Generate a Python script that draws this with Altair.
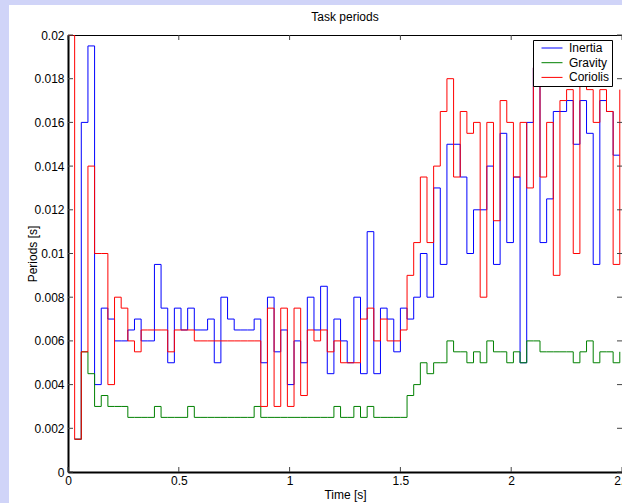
import altair as alt
import pandas as pd
import jinja2

# ---------------- data ----------------
period = 0.03  # sampling step of the stairs (s)
series_names = ["Inertia", "Gravity", "Coriolis"]
series_colors = ["#0000ff", "#008000", "#ff0000"]

inertia = [None, 0.0015, 0.016, 0.0195, 0.004, 0.0075, 0.007, 0.006, 0.006, 0.0065,
           0.007, 0.006, 0.006, 0.0095, 0.0075, 0.005, 0.0075, 0.0065, 0.0075, 0.0065,
           0.0065, 0.007, 0.005, 0.008, 0.007, 0.0065, 0.0065, 0.0065, 0.007, 0.005,
           0.008, 0.0055, 0.0065, 0.004, 0.006, 0.005, 0.008, 0.0065, 0.0085, 0.0045,
           0.007, 0.006, 0.005, 0.008, 0.0045, 0.011, 0.0045, 0.0075, 0.007, 0.0055,
           0.0075, 0.007, 0.008, 0.01, 0.008, 0.013, 0.0095, 0.015, 0.015, 0.0135,
           0.01, 0.012, 0.012, 0.014, 0.0095, 0.0155, 0.0105, 0.0135, 0.005, 0.016,
           0.0185, 0.0105, 0.0125, 0.0165, 0.0165, 0.017, 0.015, 0.017, 0.0155, 0.0095,
           0.017, 0.0165, 0.0145, 0.0145]

gravity = [None, 0.0015, 0.0055, 0.0045, 0.003, 0.0035, 0.003, 0.003, 0.003, 0.0025,
           0.0025, 0.0025, 0.0025, 0.003, 0.0025, 0.0025, 0.0025, 0.0025, 0.003, 0.0025,
           0.0025, 0.0025, 0.0025, 0.0025, 0.0025, 0.0025, 0.0025, 0.0025, 0.003, 0.0025,
           0.0025, 0.0025, 0.0025, 0.0025, 0.0025, 0.0025, 0.0025, 0.0025, 0.0025, 0.0025,
           0.003, 0.0025, 0.0025, 0.003, 0.0025, 0.003, 0.0025, 0.0025, 0.0025, 0.0025,
           0.0025, 0.0035, 0.004, 0.005, 0.0045, 0.005, 0.005, 0.006, 0.0055, 0.0055,
           0.005, 0.0055, 0.005, 0.006, 0.0055, 0.0055, 0.005, 0.0055, 0.005, 0.006,
           0.006, 0.0055, 0.0055, 0.0055, 0.0055, 0.0055, 0.005, 0.0055, 0.006, 0.005,
           0.0055, 0.0055, 0.005, 0.0055]

coriolis = [0.02, 0.0015, 0.0055, 0.014, 0.01, 0.01, 0.004, 0.008, 0.0075, 0.006,
            0.0055, 0.0065, 0.0065, 0.0065, 0.0065, 0.0055, 0.0065, 0.0065, 0.0065, 0.006,
            0.006, 0.006, 0.006, 0.006, 0.006, 0.006, 0.006, 0.006, 0.006, 0.003,
            0.0075, 0.003, 0.0075, 0.003, 0.0075, 0.0035, 0.0065, 0.006, 0.0065, 0.0055,
            0.006, 0.005, 0.005, 0.005, 0.007, 0.0075, 0.006, 0.007, 0.006, 0.006,
            0.0065, 0.009, 0.0105, 0.0135, 0.0105, 0.014, 0.0165, 0.018, 0.0135, 0.0165,
            0.0155, 0.016, 0.008, 0.016, 0.0115, 0.017, 0.016, 0.0135, 0.016, 0.013,
            0.0185, 0.0135, 0.016, 0.009, 0.017, 0.0175, 0.01, 0.0185, 0.0175, 0.016,
            0.0175, 0.0165, 0.0095, 0.0175]

x_ticks = [0, 0.5, 1, 1.5, 2, 2.5]
y_ticks = [0, 0.002, 0.004, 0.006, 0.008, 0.01, 0.012, 0.014, 0.016, 0.018, 0.02]

rows = []
for name, vals in zip(series_names, [inertia, gravity, coriolis]):
    for k, v in enumerate(vals):
        if v is not None:
            rows.append({"t": round(k * period, 4), "p": v, "task": name})
df = pd.DataFrame(rows)

# ---------------- chart ----------------
FONT = "Liberation Sans"
W, H = 554, 437
TICK = 5
tick_color = "#444444"

x_scale = alt.Scale(domain=[0, 2.5], nice=False, zero=False)
y_scale = alt.Scale(domain=[0, 0.02], nice=False, zero=False)

x_axis = alt.Axis(title="Time [s]", values=x_ticks, format="~g", ticks=False,
                  grid=False, labelPadding=3, labelFlush=False,
                  domainColor="black", domainWidth=2,
                  titleY=22, titleBaseline="middle")
y_axis = alt.Axis(title="Periods [s]", values=y_ticks, format="~g", ticks=False,
                  grid=False, labelPadding=4, labelFlush=False,
                  domainColor="black", domainWidth=2,
                  titleX=-36, titleY=H / 2, titleAngle=270,
                  titleBaseline="middle", titleAlign="center")

lines = alt.Chart(df).mark_line(
    interpolate="step-after", strokeWidth=1, clip=True
).encode(
    x=alt.X("t:Q", scale=x_scale, axis=x_axis),
    y=alt.Y("p:Q", scale=y_scale, axis=y_axis),
    color=alt.Color("task:N",
                    scale=alt.Scale(domain=series_names, range=series_colors),
                    legend=alt.Legend(title=None, orient="none", legendX=465, legendY=5,
                                      symbolType="stroke", symbolSize=441,
                                      symbolStrokeWidth=1, symbolOffset=6,
                                      clipHeight=12, labelFontSize=12,
                                      labelFont=FONT, labelColor="black",
                                      strokeColor="black", fillColor="white",
                                      padding=2, rowPadding=2.7, labelOffset=6,
                                      cornerRadius=0)),
)

xt = pd.DataFrame({"t": x_ticks})
yt = pd.DataFrame({"p": y_ticks})

bottom_ticks = alt.Chart(xt).mark_rule(color=tick_color, strokeWidth=1).encode(
    x=alt.X("t:Q", scale=x_scale, axis=x_axis), y=alt.value(H), y2=alt.value(H - TICK))
top_ticks = alt.Chart(xt).mark_rule(color=tick_color, strokeWidth=1).encode(
    x=alt.X("t:Q", scale=x_scale, axis=x_axis), y=alt.value(0), y2=alt.value(TICK))
left_ticks = alt.Chart(yt).mark_rule(color=tick_color, strokeWidth=1).encode(
    y=alt.Y("p:Q", scale=y_scale, axis=y_axis), x=alt.value(0), x2=alt.value(TICK))
right_ticks = alt.Chart(yt).mark_rule(color=tick_color, strokeWidth=1).encode(
    y=alt.Y("p:Q", scale=y_scale, axis=y_axis), x=alt.value(W), x2=alt.value(W - TICK))

chart = alt.layer(
    lines, bottom_ticks, top_ticks, left_ticks, right_ticks
).properties(
    width=W, height=H,
    title=alt.Title("Task periods", fontSize=12, fontWeight="normal", font=FONT,
                    offset=5, anchor="middle", color="black"),
    autosize=alt.AutoSizeParams(type="none"),
    padding={"left": 59, "top": 30, "right": 0, "bottom": 31},
    background="white",
).configure_view(
    stroke="black", strokeWidth=1
).configure_axis(
    labelFont=FONT, labelFontSize=12, labelColor="black",
    titleFont=FONT, titleFontSize=12, titleFontWeight="normal", titleColor="black",
)

PAGE = jinja2.Template("""<!DOCTYPE html>
<html>
<head>
  <style>
    html, body { margin: 0; padding: 0; background: #d0d4f8; overflow: hidden; }
    body { padding: 5px 0 0 9px; }
    #{{ output_div }}.vega-embed { width: 100%; display: flex; }
  </style>
  <script type="text/javascript" src="{{ base_url }}/vega@{{ vega_version }}"></script>
  <script type="text/javascript" src="{{ base_url }}/vega-lite@{{ vegalite_version }}"></script>
  <script type="text/javascript" src="{{ base_url }}/vega-embed@{{ vegaembed_version }}"></script>
</head>
<body>
  <div id="{{ output_div }}"></div>
  <script>
    (function(vegaEmbed) {
      var spec = {{ spec }};
      var embedOpt = {{ embed_options }};
      vegaEmbed("#{{ output_div }}", spec, embedOpt).catch(function (e) {
        document.getElementById("{{ output_div }}").innerHTML =
          '<pre style="color:red">' + e.message + '</pre>';
      });
    })(vegaEmbed);
  </script>
</body>
</html>""")

try:
    chart.save("out.html", embed_options={"renderer": "svg", "actions": False},
               template=PAGE)
except Exception:
    chart.save("out.html", embed_options={"renderer": "svg", "actions": False})
